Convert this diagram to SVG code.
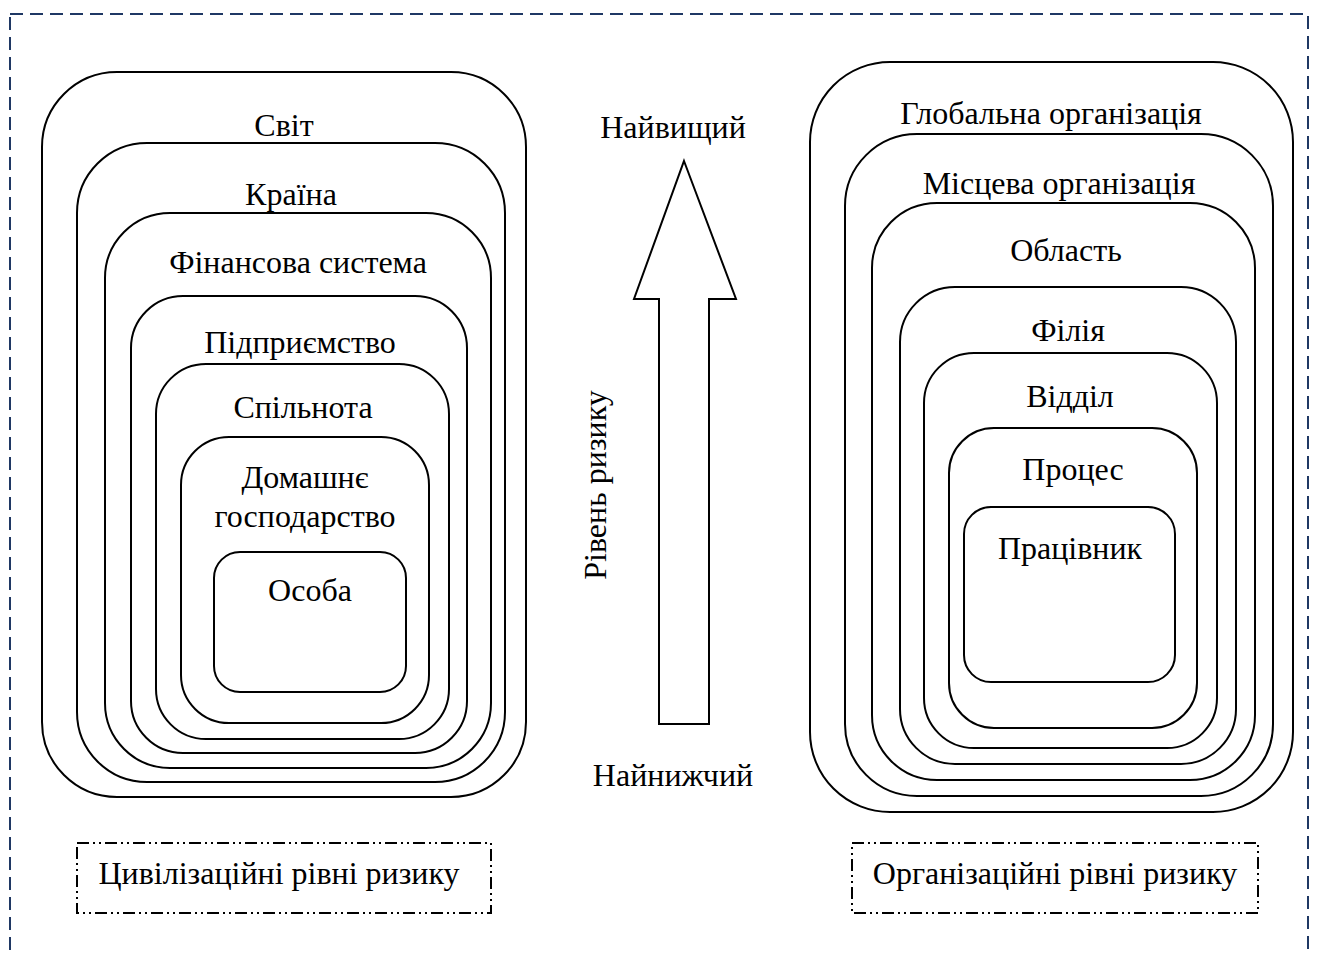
<svg xmlns="http://www.w3.org/2000/svg" width="1317" height="956" viewBox="0 0 1317 956">
<style>
.box{fill:none;stroke:#000;stroke-width:2}
.t{font-family:"Liberation Serif","Times New Roman",serif;font-size:32px;fill:#000;text-anchor:middle}
.lbl{fill:none;stroke:#000;stroke-width:2;stroke-dasharray:12 4 2 4 2 4}
</style>
<rect x="0" y="0" width="1317" height="956" fill="#fff"/>
<rect x="10" y="14" width="1298" height="960" fill="none" stroke="#1f3864" stroke-width="2" stroke-dasharray="13 7"/>
<g id="left">
<g id="svit"><rect class="box" x="42" y="72" width="484" height="725" rx="75"/><text class="t" x="284" y="136">Світ</text></g>
<g id="kraina"><rect class="box" x="77" y="143" width="428" height="639" rx="70"/><text class="t" x="291" y="205">Країна</text></g>
<g id="finsys"><rect class="box" x="105" y="213" width="386" height="555" rx="65"/><text class="t" x="298" y="273">Фінансова система</text></g>
<g id="pidpr"><rect class="box" x="131" y="296" width="336" height="457" rx="52"/><text class="t" x="300" y="353">Підприємство</text></g>
<g id="spiln"><rect class="box" x="156" y="364" width="293" height="375" rx="50"/><text class="t" x="303" y="418">Спільнота</text></g>
<g id="domg"><rect class="box" x="181" y="437" width="248" height="286" rx="48"/><text class="t" x="305" y="488">Домашнє</text><text class="t" x="305" y="527">господарство</text></g>
<g id="osoba"><rect class="box" x="214" y="552" width="192" height="140" rx="26"/><text class="t" x="310" y="601">Особа</text></g>
</g>
<g id="right">
<g id="glob"><rect class="box" x="810" y="62" width="483" height="750" rx="80"/><text class="t" x="1051" y="124">Глобальна організація</text></g>
<g id="misc"><rect class="box" x="845" y="134" width="428" height="662" rx="72"/><text class="t" x="1059" y="194">Місцева організація</text></g>
<g id="obl"><rect class="box" x="872" y="203" width="383" height="577" rx="65"/><text class="t" x="1066" y="261">Область</text></g>
<g id="filia"><rect class="box" x="900" y="287" width="336" height="477" rx="55"/><text class="t" x="1068" y="341">Філія</text></g>
<g id="viddil"><rect class="box" x="924" y="353" width="293" height="395" rx="50"/><text class="t" x="1070" y="407">Відділ</text></g>
<g id="proces"><rect class="box" x="949" y="428" width="248" height="300" rx="45"/><text class="t" x="1073" y="480">Процес</text></g>
<g id="prac"><rect class="box" x="964" y="507" width="211" height="175" rx="27"/><text class="t" x="1070" y="559">Працівник</text></g>
</g>
<g id="center">
<text class="t" x="673" y="138">Найвищий</text>
<text class="t" x="673" y="786">Найнижчий</text>
<polygon points="684,161 736,299 709,299 709,724 659,724 659,299 634,299" fill="none" stroke="#000" stroke-width="2"/>
<text class="t" transform="translate(606,485) rotate(-90)">Рівень ризику</text>
</g>
<g id="labels">
<g id="civ"><rect class="lbl" x="77" y="843" width="414" height="70"/><text class="t" x="279" y="884">Цивілізаційні рівні ризику</text></g>
<g id="org"><rect class="lbl" x="852" y="843" width="406" height="70"/><text class="t" x="1055" y="884">Організаційні рівні ризику</text></g>
</g>
</svg>
